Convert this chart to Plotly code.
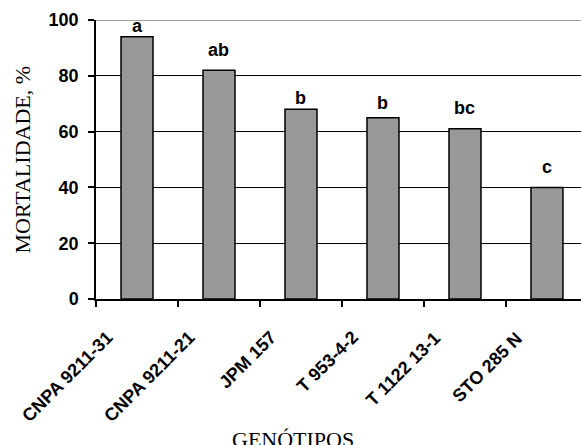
import plotly.graph_objects as go

genotipos = ["CNPA 9211-31", "CNPA 9211-21", "JPM 157", "T 953-4-2", "T 1122 13-1", "STO 285 N"]
mortalidade = [94, 82, 68, 65, 61, 40]
erro = [0, 3.2, 0, 1.3, 3.6, 3.4]
letras = ["a", "ab", "b", "b", "bc", "c"]
y_ticks = [0, 20, 40, 60, 80, 100]

SANS = "Liberation Sans, Arial, sans-serif"
SERIF = "Liberation Serif, Times New Roman, serif"

fig = go.Figure()
fig.add_trace(go.Bar(
    x=genotipos, y=mortalidade, width=0.39,
    marker=dict(color="#999999", line=dict(color="black", width=1.5)),
    hoverinfo="skip",
))

# significance letters
for g, v, e, l in zip(genotipos, mortalidade, erro, letras):
    fig.add_annotation(x=g, y=v + e, text=l, showarrow=False, yanchor="bottom",
                       yshift=-1, font=dict(family=SANS, size=18, color="black", weight="bold"))

# rotated category labels
for g in genotipos:
    fig.add_annotation(x=g, y=0, yref="y", text=g, showarrow=False, textangle=-45,
                       xanchor="right", yanchor="top", xshift=-18, yshift=-26,
                       font=dict(family=SANS, size=18, color="black", weight="bold"))

fig.add_shape(type="line", xref="paper", yref="y", x0=0, x1=1, y0=100, y1=100,
              line=dict(color="#808080", width=1.5), layer="above")

fig.add_annotation(xref="paper", yref="paper", x=0, xshift=-74, y=0.5, textangle=-90,
                   text="MORTALIDADE, %", showarrow=False, xanchor="center", yanchor="middle",
                   font=dict(family=SERIF, size=22, color="black"))
fig.add_annotation(xref="paper", yref="paper", x=(293 - 96) / (581 - 96), y=0, yshift=-140,
                   text="GENÓTIPOS", showarrow=False, xanchor="center", yanchor="middle",
                   font=dict(family=SERIF, size=22, color="black"))

fig.update_layout(
    width=581, height=445,
    margin=dict(l=96, r=0, t=20, b=146, autoexpand=False),
    paper_bgcolor="white", plot_bgcolor="white",
    showlegend=False,
    font=dict(family=SANS, color="black"),
    xaxis=dict(
        type="category", range=[-0.5, 5.415], automargin=False,
        tickson="boundaries", ticks="outside", ticklen=6, tickwidth=1.5, tickcolor="black",
        showline=True, linecolor="black", linewidth=1.5,
        showticklabels=False, showgrid=False,
    ),
    yaxis=dict(
        range=[0, 100], automargin=False, tickvals=y_ticks,
        ticks="outside", ticklen=6, tickwidth=1.5, tickcolor="black",
        ticklabelstandoff=6,
        showline=True, linecolor="black", linewidth=1.5,
        showgrid=True, gridcolor="black", gridwidth=1,
        tickfont=dict(size=18, family=SANS, color="black", weight="bold"),
        zeroline=False,
    ),
)

fig.write_html("out.html", config={"displayModeBar": False},
               post_script="document.body.style.margin='0';document.body.style.overflow='hidden';")
